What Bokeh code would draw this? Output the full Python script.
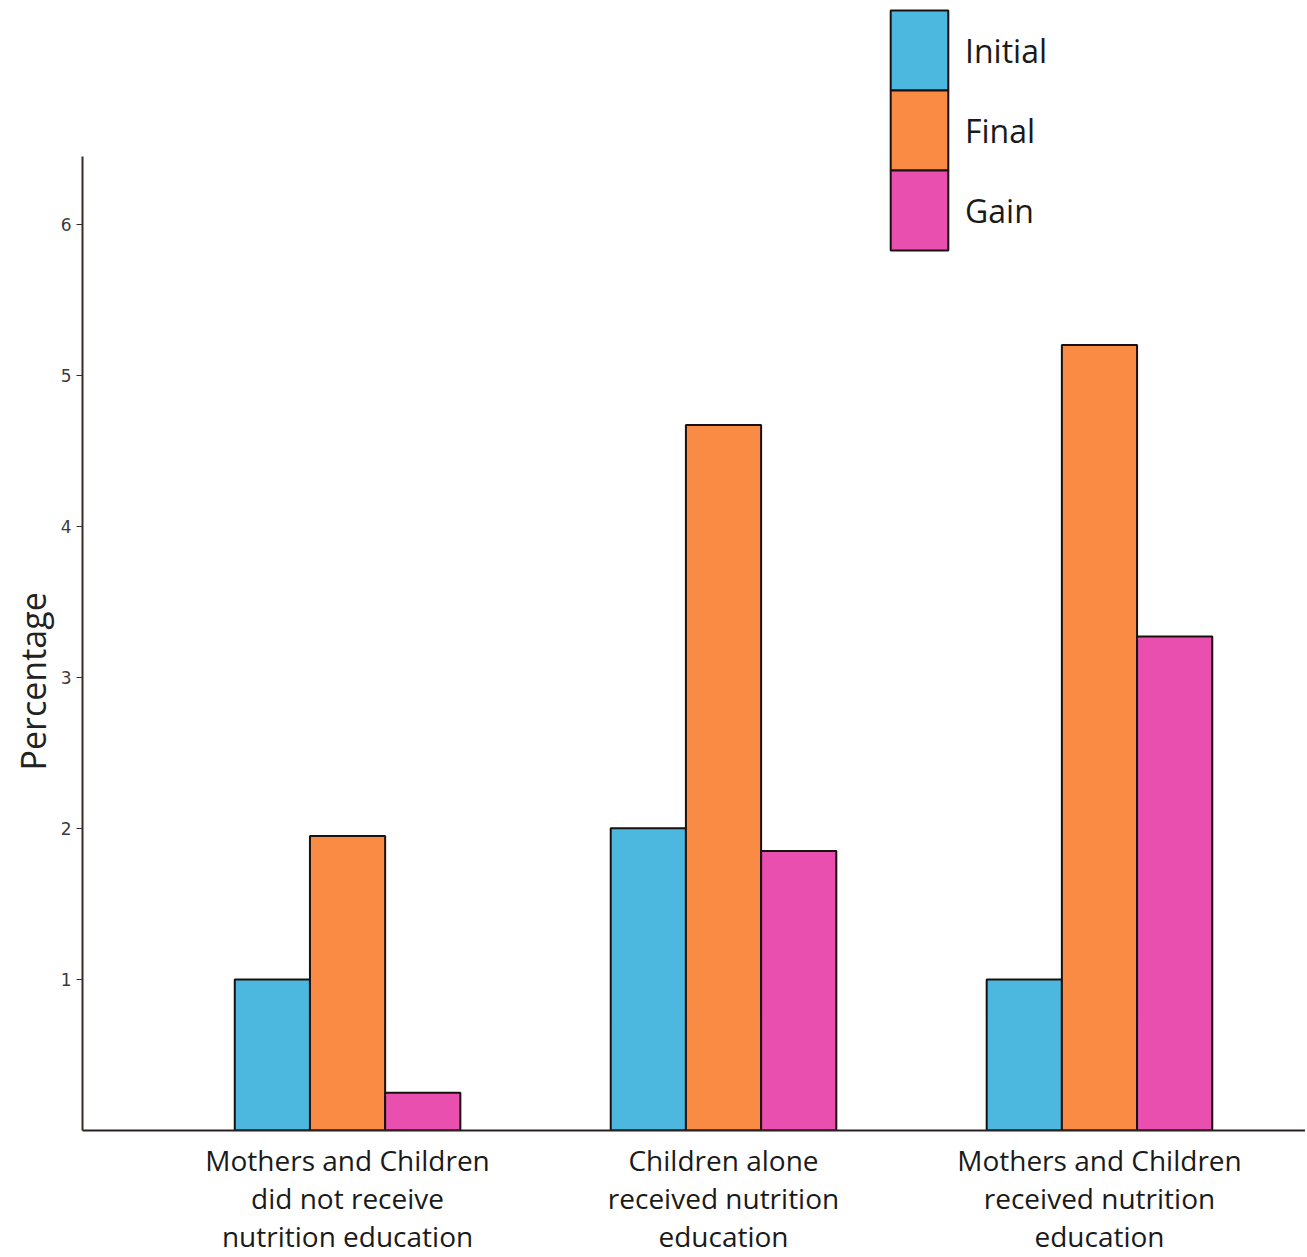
from bokeh.plotting import figure
from bokeh.models import Range1d, FixedTicker, Legend, LegendItem, Title
from bokeh.transform import dodge
from bokeh.models import ColumnDataSource
from bokeh.embed import file_html
from bokeh.resources import INLINE

categories = [
    "Mothers and Children\ndid not receive\nnutrition education",
    "Children alone\nreceived nutrition\neducation",
    "Mothers and Children\nreceived nutrition\neducation",
]
positions = [1, 2, 3]
initial = [1.0, 2.0, 1.0]
final = [1.95, 4.67, 5.2]
gain = [0.25, 1.85, 3.27]
series = ["Initial", "Final", "Gain"]
colors = ["#4cb8df", "#f98b44", "#e94fae"]
y_ticks = [1, 2, 3, 4, 5, 6]

src = ColumnDataSource(dict(x=positions, Initial=initial, Final=final, Gain=gain))

p = figure(frame_width=1223, frame_height=1130, output_backend="svg", toolbar_location=None,
           x_range=Range1d(0.295, 3.548), y_range=Range1d(0, 7.48),
           min_border_left=82, min_border_top=0, min_border_bottom=127, min_border_right=0)
p.background_fill_color = "white"
p.border_fill_color = "white"
p.outline_line_color = None
p.xgrid.visible = False
p.ygrid.visible = False

offsets = [-0.2, 0.0, 0.2]
renderers = []
for s, c, off in zip(series, colors, offsets):
    r = p.vbar(x=dodge("x", off), top=s, width=0.2, bottom=0, source=src,
               fill_color=c, line_color="#1a1010", line_width=2)
    renderers.append(r)

# axes
p.yaxis.bounds = (0, 6.45)
p.yaxis.ticker = FixedTicker(ticks=y_ticks)
p.yaxis.minor_tick_line_color = None
p.yaxis.major_tick_out = 6
p.yaxis.major_tick_in = 0
p.yaxis.axis_line_color = "#3a2a25"
p.yaxis.axis_line_width = 2
p.yaxis.major_tick_line_color = "#3a2a25"
p.yaxis.major_label_text_font = "DejaVu Sans"
p.yaxis.major_label_text_font_size = "17px"
p.yaxis.major_label_text_color = "#3a3a3a"

ytitle = Title(text="Percentage", align="left", offset=360,
               text_font="Open Sans", text_font_style="normal",
               text_font_size="34px", text_color="#222222", standoff=4)
p.add_layout(ytitle, "left")

p.xaxis.ticker = FixedTicker(ticks=positions)
p.xaxis.major_label_overrides = {pos: lab for pos, lab in zip(positions, categories)}
p.xaxis.major_tick_line_color = None
p.xaxis.minor_tick_line_color = None
p.xaxis.axis_line_color = "#2a2020"
p.xaxis.axis_line_width = 2
p.xaxis.major_label_text_font = "Open Sans"
p.xaxis.major_label_text_font_size = "28px"
p.xaxis.major_label_text_color = "#1a1a1a"
p.xaxis.major_label_text_line_height = 1.0
p.xaxis.major_label_standoff = 4

# one legend box per series so that the swatches stack edge to edge
legend_bottoms = [1030, 950, 870]
for s, r, vy in zip(series, renderers, legend_bottoms):
    lg = Legend(items=[LegendItem(label=s, renderers=[r])], location=(801, vy))
    lg.glyph_width = 72
    lg.glyph_height = 100
    lg.label_height = 80
    lg.padding = 0
    lg.margin = 0
    lg.label_standoff = 10
    lg.label_text_font = "Open Sans"
    lg.label_text_font_size = "32px"
    lg.label_text_color = "#1a1a1a"
    lg.border_line_color = None
    lg.background_fill_alpha = 0
    p.add_layout(lg, "center")

open("out.html", "w").write(file_html(p, INLINE))
